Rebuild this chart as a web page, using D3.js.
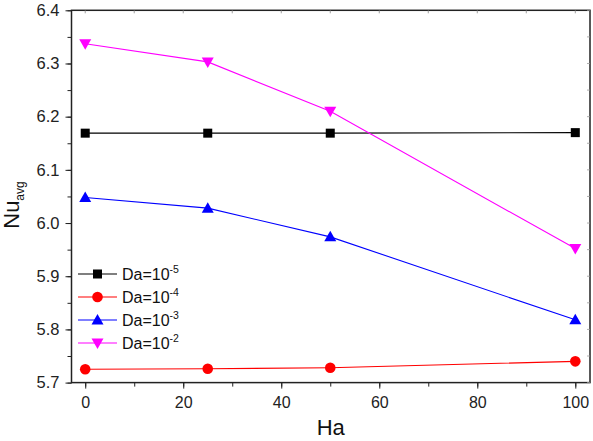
<!DOCTYPE html>
<html><head><meta charset="utf-8">
<script src="https://cdn.jsdelivr.net/npm/d3@7"></script>
<style>body{margin:0;background:#fff}svg{display:block}text{font-family:"Liberation Sans",Arial,sans-serif}</style>
</head><body>
<script>
const haValues = [0, 25, 50, 100];
const da5 = [6.169, 6.169, 6.169, 6.170];
const da4 = [5.725, 5.726, 5.728, 5.740];
const da3 = [6.048, 6.028, 5.974, 5.818];
const da2 = [6.337, 6.303, 6.210, 5.952];
const seriesNames = ["-5", "-4", "-3", "-2"];
const seriesColors = ["#000000", "#ff0000", "#0000ff", "#ff00ff"];
const seriesSymbols = ["square", "circle", "triangle", "triangleDown"];
const xTicks = [0, 20, 40, 60, 80, 100];
const yTicks = [5.7, 5.8, 5.9, 6.0, 6.1, 6.2, 6.3, 6.4];

const W = 593, H = 441;
const L = 71.5, R = 590, T = 10.3, B = 382.6;
const svg = d3.select("body").append("svg").attr("width", W).attr("height", H);
const x = d3.scaleLinear().domain([-2.8, 103]).range([L, R]);
const y = d3.scaleLinear().domain([5.7, 6.4]).range([B, T]);

const series = [da5, da4, da3, da2];

// frame
svg.append("rect").attr("x", L).attr("y", T).attr("width", R - L).attr("height", B - T)
  .attr("fill", "none").attr("stroke", "#222").attr("stroke-width", 1.5);

// bottom axis
const xMinor = d3.range(0, 101, 10);
const gx = svg.append("g").attr("transform", `translate(0,${B})`);
gx.call(d3.axisBottom(x).tickValues(xMinor).tickSize(4).tickFormat("")).call(g => g.select(".domain").remove());
gx.call(g => g.selectAll(".tick line").attr("stroke", "#222"));
const gx2 = svg.append("g").attr("transform", `translate(0,${B})`);
gx2.call(d3.axisBottom(x).tickValues(xTicks).tickSize(6).tickPadding(8).tickFormat(d3.format("d")))
  .call(g => g.select(".domain").remove());
gx2.selectAll("text").attr("font-size", 16).attr("fill", "#222").attr("font-family", "Liberation Sans, Arial, sans-serif");
gx2.selectAll(".tick line").attr("stroke", "#222");

// top minor ticks (inside)
svg.append("g").selectAll("line").data(xMinor).join("line")
  .attr("x1", d => x(d)).attr("x2", d => x(d)).attr("y1", T).attr("y2", T + 3)
  .attr("stroke", "#888").attr("stroke-width", 0.8);

// left axis
const yMinor = d3.range(5.7, 6.401, 0.05);
const gy = svg.append("g").attr("transform", `translate(${L},0)`);
gy.call(d3.axisLeft(y).tickValues(yMinor).tickSize(4).tickFormat("")).call(g => g.select(".domain").remove());
gy.selectAll(".tick line").attr("stroke", "#222");
const gy2 = svg.append("g").attr("transform", `translate(${L},0)`);
gy2.call(d3.axisLeft(y).tickValues(yTicks).tickSize(6).tickPadding(6).tickFormat(d3.format(".1f")))
  .call(g => g.select(".domain").remove());
gy2.selectAll("text").attr("font-size", 16.5).attr("fill", "#222").attr("font-family", "Liberation Sans, Arial, sans-serif");
gy2.selectAll(".tick line").attr("stroke", "#222");

// right minor ticks (inside)
svg.append("g").selectAll("line").data(yMinor).join("line")
  .attr("x1", R).attr("x2", R - 3).attr("y1", d => y(d)).attr("y2", d => y(d))
  .attr("stroke", "#999").attr("stroke-width", 0.8);

// axis titles
svg.append("text").attr("x", (L + R) / 2).attr("y", 435).attr("text-anchor", "middle")
  .attr("font-size", 22).attr("fill", "#111").text("Ha");
const yt = svg.append("text").attr("transform", `translate(19,205) rotate(-90)`)
  .attr("text-anchor", "middle").attr("font-size", 22).attr("fill", "#111");
yt.append("tspan").text("Nu");
yt.append("tspan").attr("font-size", 12).attr("dy", 5).text("avg");

function symbol(g, type, cx, cy, color) {
  if (type === "square") {
    g.append("rect").attr("x", cx - 4.5).attr("y", cy - 4.5).attr("width", 9).attr("height", 9).attr("fill", color);
  } else if (type === "circle") {
    g.append("circle").attr("cx", cx).attr("cy", cy).attr("r", 5.3).attr("fill", color);
  } else if (type === "triangle") {
    g.append("path").attr("d", `M${cx},${cy - 6}L${cx + 6},${cy + 4.5}L${cx - 6},${cy + 4.5}Z`).attr("fill", color);
  } else {
    g.append("path").attr("d", `M${cx},${cy + 6}L${cx + 6},${cy - 4.5}L${cx - 6},${cy - 4.5}Z`).attr("fill", color);
  }
}

const line = d3.line().x((d, i) => x(haValues[i])).y(d => y(d));
series.forEach((s, k) => {
  const g = svg.append("g");
  g.append("path").attr("d", line(s)).attr("fill", "none").attr("stroke", seriesColors[k]).attr("stroke-width", 1.1);
  s.forEach((v, i) => symbol(g, seriesSymbols[k], x(haValues[i]), y(v), seriesColors[k]));
});

// legend
const legY = [274, 297, 320, 343];
seriesNames.forEach((n, k) => {
  const g = svg.append("g");
  g.append("line").attr("x1", 78).attr("x2", 117).attr("y1", legY[k]).attr("y2", legY[k])
    .attr("stroke", seriesColors[k]).attr("stroke-width", 1.1);
  symbol(g, seriesSymbols[k], 97.5, legY[k], seriesColors[k]);
  const t = g.append("text").attr("x", 122).attr("y", legY[k] + 6).attr("font-size", 16).attr("fill", "#111");
  t.append("tspan").text("Da=10");
  t.append("tspan").attr("font-size", 10.5).attr("dy", -7).text(n);
});
</script>
</body></html>
